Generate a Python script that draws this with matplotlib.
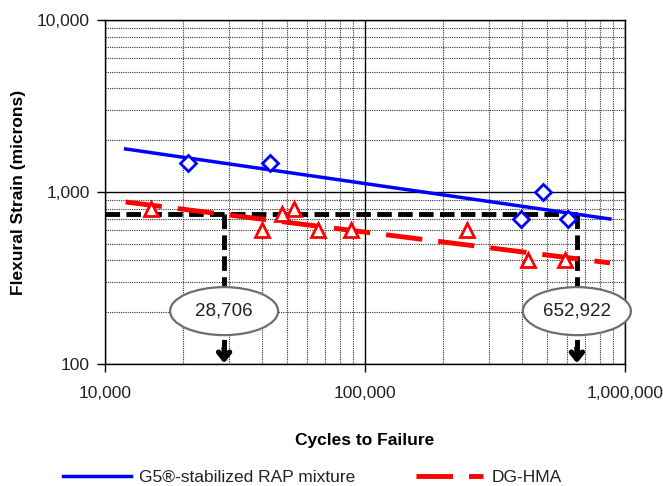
import matplotlib
matplotlib.use("Agg")
import matplotlib.pyplot as plt
from matplotlib.patches import Ellipse
from matplotlib.ticker import FixedLocator, FuncFormatter, LogLocator, NullFormatter

plt.rcParams['font.family'] = ['Liberation Sans', 'DejaVu Sans']

# measured points
g5_cycles = [20800, 43200, 398000, 484000, 604000]
g5_strain = [1475, 1475, 700, 1000, 700]
dg_cycles = [15000, 40200, 48000, 53400, 65900, 88300, 246000, 424000, 588000]
dg_strain = [800, 600, 750, 800, 600, 600, 600, 400, 400]

# trend lines (end points of the power fits)
g5_fit_x = [12000, 875000]
g5_fit_y = [1780, 697]
dg_fit_x = [12000, 875000]
dg_fit_y = [875, 387]

# design strain and cycles to failure
design_strain = 750
fail_cycles = [28706, 652922]
fail_labels = ["28,706", "652,922"]

fig = plt.figure(figsize=(6.63, 4.86), dpi=100)
ax = fig.add_axes([0.1584, 0.251, 0.7843, 0.7078])
ax.set_xscale('log')
ax.set_yscale('log')
ax.set_xlim(1e4, 1e6)
ax.set_ylim(100, 1e4)

ax.xaxis.set_minor_locator(LogLocator(base=10, subs=range(2, 10)))
ax.yaxis.set_minor_locator(LogLocator(base=10, subs=range(2, 10)))
ax.xaxis.set_minor_formatter(NullFormatter())
ax.yaxis.set_minor_formatter(NullFormatter())
ax.xaxis.set_major_locator(FixedLocator([1e4, 1e5, 1e6]))
ax.yaxis.set_major_locator(FixedLocator([100, 1000, 10000]))
fmt = FuncFormatter(lambda v, p: f"{int(round(v)):,}")
ax.xaxis.set_major_formatter(fmt)
ax.yaxis.set_major_formatter(fmt)

ax.grid(which='major', color='black', linewidth=1.0)
ax.grid(which='minor', color='#333333', linestyle=(0, (1, 1)), linewidth=0.8)
ax.tick_params(which='minor', length=0)
ax.tick_params(which='major', direction='out', length=6, width=1, labelsize=12.5,
               labelcolor='#222222')
ax.tick_params(axis='x', pad=10)
ax.tick_params(axis='y', pad=5)
for s in ax.spines.values():
    s.set_linewidth(1.0)

# design strain guide lines
black_dash = (0, (3, 1.3))
ax.plot([1e4, fail_cycles[1]], [design_strain, design_strain], color='black',
        linestyle=black_dash, linewidth=3.5, zorder=3)
for c, lab in zip(fail_cycles, fail_labels):
    ax.plot([c, c], [design_strain, 118], color='black',
            linestyle=black_dash, linewidth=3.5, zorder=3)
    ax.annotate('', xy=(c, 101), xytext=(c, 124),
                arrowprops=dict(arrowstyle='->,head_width=0.4,head_length=0.5',
                                color='black', lw=3.8, shrinkA=0, shrinkB=0), zorder=4)
    cx, cy = ax.transAxes.inverted().transform(ax.transData.transform((c, 203)))
    ax.add_patch(Ellipse((cx, cy), 108 / 520, 48 / 344, transform=ax.transAxes,
                         facecolor='white', edgecolor='#6e6e6e', linewidth=1.6,
                         zorder=6, clip_on=False))
    ax.text(cx, cy, lab, transform=ax.transAxes, ha='center', va='center',
            fontsize=13.5, color='#222222', zorder=7)

# trend lines
ax.plot(g5_fit_x, g5_fit_y, color='#0000ff', linewidth=2.5, zorder=4,
        label='G5®-stabilized RAP mixture')
ax.plot(dg_fit_x, dg_fit_y, color='#ff0000', linewidth=3.5, zorder=4,
        linestyle=(0, (7.5, 3.3)), label='DG-HMA')

# data markers
ax.plot(g5_cycles, g5_strain, linestyle='none', marker='D', markersize=8,
        markerfacecolor='white', markeredgecolor='#0000ff', markeredgewidth=2, zorder=5)
ax.plot(dg_cycles, dg_strain, linestyle='none', marker='^', markersize=10,
        markerfacecolor='white', markeredgecolor='#ff0000', markeredgewidth=2, zorder=5)

ax.set_xlabel('Cycles to Failure', fontsize=12.5, fontweight='bold', labelpad=23)
ax.set_ylabel('Flexural Strain (microns)', fontsize=12.5, fontweight='bold', labelpad=8)

fig.legend(loc='center', bbox_to_anchor=(0.471, 0.0185), ncol=2, frameon=False,
           fontsize=12.5, handlelength=3.9, handletextpad=0.45, columnspacing=3.5,
           borderpad=0, labelcolor='#222222')

fig.savefig('out.png', dpi=100)
